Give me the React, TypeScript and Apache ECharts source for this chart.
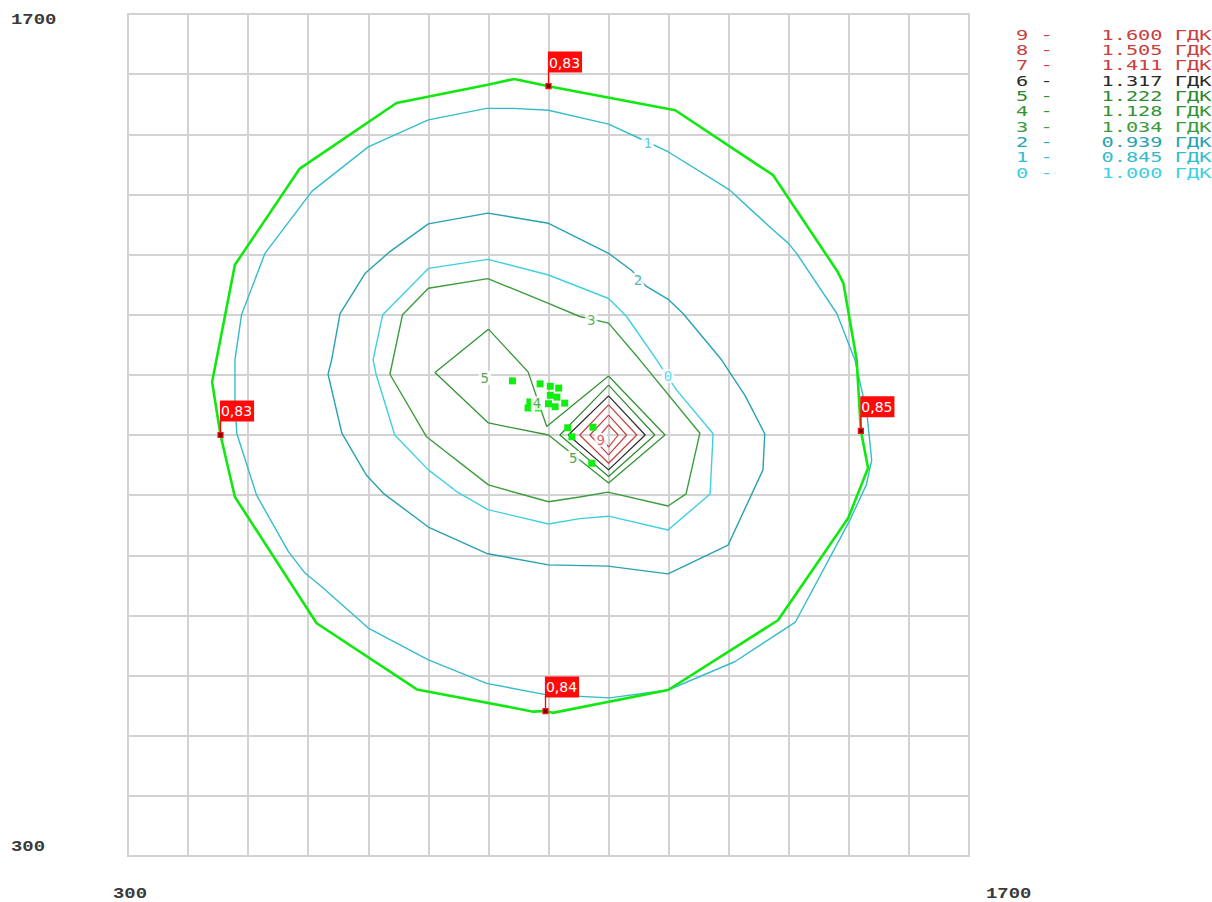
import React, { useEffect, useRef } from 'react';
import * as echarts from 'echarts';

// ---- data (x, y in chart units) ----
const boundary = [[943,1592],[1000,1580],[1211,1540],[1374,1432],[1481,1272],[1491,1252],[1513,1125],[1520,1007],[1532,945],[1499,862],[1382,692],[1199,576],[1007,538],[995,541],[975,540],[781,577],[614,687],[478,897],[454,1000],[440,1088],[478,1283],[586,1443],[747,1552],[897,1582],[943,1592]];

const contour1 = [[478,1125],[489,1200],[528,1302],[606,1405],[700,1479],[800,1524],[897,1543],[941,1543],[1000,1540],[1100,1517],[1152,1493],[1199,1471],[1302,1407],[1341,1371],[1374,1341],[1399,1319],[1413,1302],[1480,1202],[1510,1125],[1530,1037],[1538,958],[1529,917],[1502,859],[1411,689],[1310,623],[1199,576],[1102,563],[997,568],[897,587],[800,626],[700,679],[622,748],[595,770],[567,806],[514,900],[481,1003],[478,1058],[478,1125]];

const contour2 = [[633,1101],[639,1125],[653,1202],[695,1269],[736,1305],[800,1351],[899,1369],[1000,1352],[1100,1302],[1138,1274],[1163,1247],[1200,1225],[1224,1202],[1288,1125],[1327,1066],[1360,1002],[1357,942],[1299,817],[1199,769],[1099,782],[1000,784],[897,803],[800,847],[725,903],[697,933],[656,1003],[633,1101]];

const contour0 = [[713,1101],[708,1125],[724,1200],[800,1277],[899,1292],[1000,1266],[1100,1227],[1130,1197],[1180,1125],[1213,1075],[1274,1002],[1269,902],[1199,842],[1100,865],[1052,861],[1000,852],[899,876],[847,906],[800,942],[744,1000],[713,1101]];

const contour3 = [[736,1101],[757,1200],[800,1244],[899,1260],[1000,1219],[1052,1197],[1100,1186],[1152,1125],[1252,1003],[1229,902],[1199,882],[1099,905],[1052,897],[1000,889],[900,917],[797,997],[736,1101]];

const contour4 = [[900,1176],[966,1105],[997,1014],[1100,1098],[1194,1000],[1100,920],[1000,1000],[900,1020],[811,1104],[900,1176]];

const contour5 = [[1100,1083],[1177,1000],[1100,931],[1019,1000],[1100,1083]];
const contour6 = [[1100,1065],[1161,1000],[1100,942],[1033,1000],[1100,1065]];
const contour7 = [[1100,1050],[1147,1000],[1100,953],[1052,1000],[1100,1050]];
const contour8 = [[1100,1033],[1130,1000],[1100,967],[1069,1000],[1100,1033]];
const contour9 = [[1100,1017],[1116,1000],[1100,980],[1086,1000],[1100,1017]];

const samplePoints = [[940,1090],[986,1085],[1003,1081],[1017,1078],[1014,1063],[1003,1066],[1000,1052],[969,1055],[966,1045],[983,1045],[1011,1047],[1027,1053],[1032,1012],[1074,1013],[1039,997],[1072,953]];

const flagPoints = [[1000,1580],[454,1000],[1520,1007],[995,541]];
const flagValues = ['0,83','0,83','0,85','0,84'];

const contourLabelPos = [[1165,1485],[1149,1258],[1199,1098],[1071,1191],[894,1095],[981,1053],[1087,992],[1041,962]];
const contourLabelText = ['1','2','0','3','5','4','9','5'];
const contourLabelLevel = [1,2,0,3,5,4,9,5];

const legendLevels = ['9','8','7','6','5','4','3','2','1','0'];
const legendValues = ['1.600','1.505','1.411','1.317','1.222','1.128','1.034','0.939','0.845','1.000'];
const legendUnit = 'ГДК';

const xTickValues = [300, 1700];
const xTickLabels = ['300', '1700'];
const yTickValues = [1700, 300];
const yTickLabels = ['1700', '300'];

// colors by level
const levelColors: Record<number, string> = {
  9: '#c84040', 8: '#c84040', 7: '#c84040', 6: '#2a2a2a',
  5: '#2c8a2c', 4: '#339433', 3: '#3c9c3c',
  2: '#26a2b2', 1: '#35bccb', 0: '#3fd0e0',
};

export default function App() {
  const ref = useRef<HTMLDivElement>(null);
  useEffect(() => {
    const chart = echarts.init(ref.current!, null, { renderer: 'svg' });
    const line = (name: string, data: number[][], color: string, width: number, z = 2) => ({
      type: 'line', name, data, showSymbol: false, symbol: 'none', silent: true, z,
      lineStyle: { color, width }, animation: false,
    });
    const axisCommon = {
      type: 'value', min: 300, max: 1700, interval: 100,
      axisLine: { show: false }, axisTick: { show: false }, axisLabel: { show: false },
      splitLine: { show: true, lineStyle: { color: '#d2d2d2', width: 2 } },
    };
    chart.setOption({
      animation: false,
      grid: { left: 128, top: 14, width: 841, height: 842, show: true, borderColor: '#d2d2d2', borderWidth: 2 },
      xAxis: { ...axisCommon },
      yAxis: { ...axisCommon },
      series: [
        line('c1', contour1, levelColors[1], 1.4),
        line('c2', contour2, levelColors[2], 1.4),
        line('c0', contour0, levelColors[0], 1.4),
        line('c3', contour3, levelColors[3], 1.4),
        line('c4', contour4, levelColors[4], 1.3),
        line('c5', contour5, levelColors[5], 1.2),
        line('c6', contour6, levelColors[6], 1.2),
        line('c7', contour7, levelColors[7], 1.2),
        line('c8', contour8, levelColors[8], 1.2),
        line('c9', contour9, levelColors[9], 1.2),
        line('boundary', boundary, '#10e810', 2.6, 3),
        {
          type: 'scatter', name: 'samples', data: samplePoints, symbol: 'rect', symbolSize: 7,
          itemStyle: { color: '#10ee10', opacity: 1 }, z: 4, silent: true,
        },
        {
          type: 'scatter', name: 'labels', z: 5, silent: true, symbolSize: 0,
          data: contourLabelPos.map((p, i) => ({
            value: p,
            label: {
              show: true, position: 'inside', formatter: contourLabelText[i],
              color: levelColors[contourLabelLevel[i]],
              fontFamily: 'DejaVu Sans Mono', fontSize: 14,
              backgroundColor: '#ffffff', padding: [0, 2],
            },
          })),
        },
        {
          type: 'scatter', name: 'stems', data: flagPoints, symbol: 'rect', symbolSize: [1.3, 14],
          symbolOffset: [0, -8], itemStyle: { color: '#ff0000', opacity: 1 }, z: 6, silent: true,
        },
        {
          type: 'scatter', name: 'flags', z: 7, silent: true, symbol: 'rect', symbolSize: 5,
          itemStyle: { color: '#700000', borderColor: '#ff1010', borderWidth: 1.2, opacity: 1 },
          data: flagPoints.map((p, i) => ({
            value: p,
            label: {
              show: true, position: [2.5, -31.5], formatter: flagValues[i],
              color: '#ffffff', backgroundColor: '#ff0a0a',
              fontFamily: 'DejaVu Sans', fontSize: 14, lineHeight: 16,
              padding: [3, 2, 2, 1], align: 'left', verticalAlign: 'top',
            },
          })),
        },
      ],
    });

    const graphics: any[] = [];
    const tickFont = 'bold 14px "Liberation Mono"';
    yTickValues.forEach((v, i) => {
      const p = chart.convertToPixel({ gridIndex: 0 }, [300, v]) as number[];
      const dy = i === 0 ? 6.5 : -8.5;
      graphics.push({
        type: 'text', x: 11, y: p[1] + dy, scaleX: 1.35, silent: true,
        style: { text: yTickLabels[i], font: tickFont, fill: '#3a3a3a', textAlign: 'left', textVerticalAlign: 'middle' },
      });
    });
    xTickValues.forEach((v, i) => {
      const p = chart.convertToPixel({ gridIndex: 0 }, [v, 300]) as number[];
      const dx = i === 0 ? -15 : 17;
      graphics.push({
        type: 'text', x: p[0] + dx, y: p[1] + 38, scaleX: 1.35, silent: true,
        style: { text: xTickLabels[i], font: tickFont, fill: '#3a3a3a', textAlign: 'left', textVerticalAlign: 'middle' },
      });
    });
    legendLevels.forEach((lv, i) => {
      const txt = lv + ' -    ' + legendValues[i] + ' ' + legendUnit;
      graphics.push({
        type: 'text', x: 1016, y: 35 + i * 15.33, scaleX: 1.45, silent: true,
        style: {
          text: txt, font: '14px "DejaVu Sans Mono"', fill: levelColors[Number(lv)],
          textAlign: 'left', textVerticalAlign: 'middle',
        },
      });
    });
    chart.setOption({ graphic: graphics });

    return () => chart.dispose();
  }, []);
  return <div ref={ref} style={{ position: 'absolute', left: 0, top: 0, width: 1212, height: 902 }} />;
}
